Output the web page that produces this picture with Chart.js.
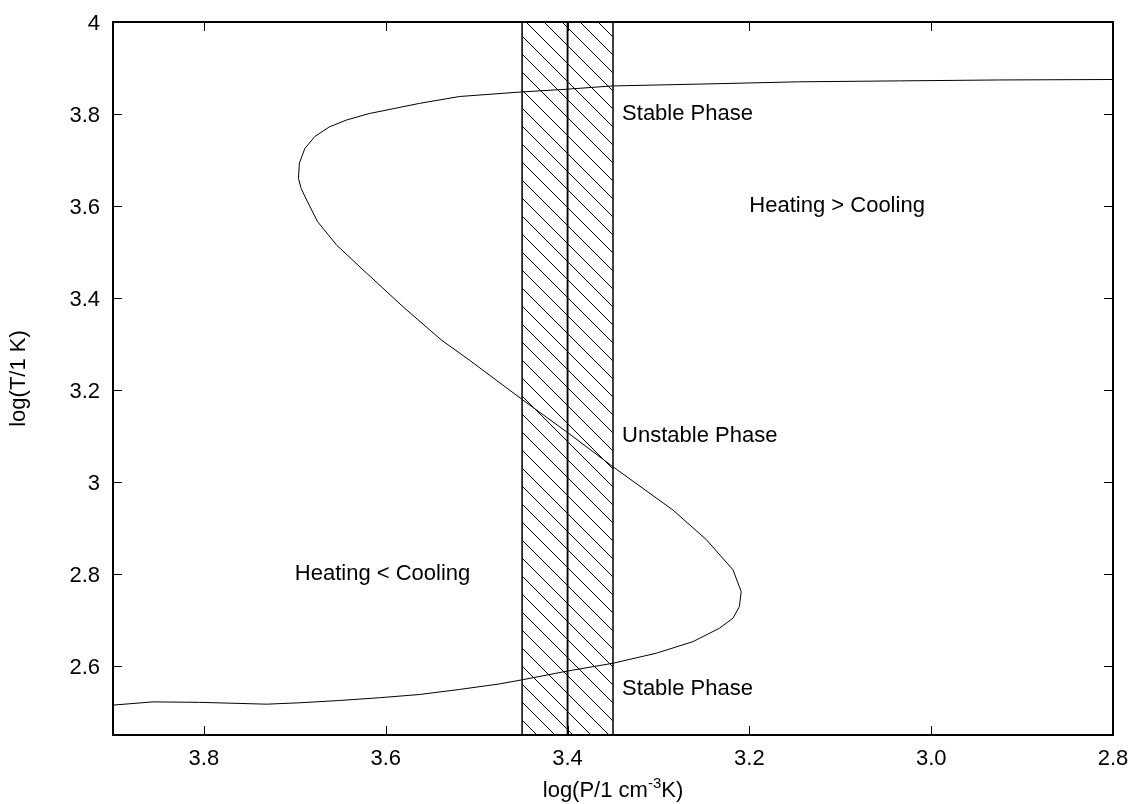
<!DOCTYPE html>
<html>
<head>
<meta charset="utf-8">
<script src="https://cdn.jsdelivr.net/npm/chart.js@4/dist/chart.umd.min.js"></script>
<style>
  html, body { margin: 0; padding: 0; background: #fff; }
  #wrap { width: 1130px; height: 804px; position: relative; }
</style>
</head>
<body>
<div id="wrap"><canvas id="c"></canvas></div>
<script>
// equilibrium curve, log P (x) against log T (y)
var curveP = [2.80, 2.925, 3.035, 3.145, 3.255, 3.351, 3.40, 3.45, 3.519, 3.563,
              3.618, 3.643, 3.662, 3.678, 3.689, 3.695, 3.696, 3.693, 3.687, 3.675,
              3.654, 3.621, 3.581, 3.539, 3.508, 3.449, 3.401, 3.350, 3.284, 3.247,
              3.218, 3.209, 3.211, 3.218, 3.233, 3.262, 3.302, 3.350, 3.400, 3.450,
              3.475, 3.519, 3.563, 3.607, 3.651, 3.695, 3.731, 3.805, 3.856, 3.90];
var curveT = [3.875, 3.874, 3.872, 3.870, 3.865, 3.861, 3.854, 3.848, 3.838, 3.823,
              3.801, 3.787, 3.772, 3.751, 3.725, 3.693, 3.660, 3.638, 3.613, 3.566,
              3.515, 3.454, 3.381, 3.309, 3.265, 3.178, 3.109, 3.033, 2.939, 2.874,
              2.809, 2.762, 2.729, 2.704, 2.682, 2.653, 2.628, 2.606, 2.589, 2.570,
              2.561, 2.549, 2.538, 2.531, 2.525, 2.520, 2.517, 2.521, 2.522, 2.515];

// hatched pressure bands (left edge, right edge)
var bandFrom = [3.45, 3.40];
var bandTo   = [3.40, 3.35];

// axis ranges and ticks
var xMin = 2.8, xMax = 3.9;
var yMin = 2.45, yMax = 4.0;
var xTicks = [3.8, 3.6, 3.4, 3.2, 3.0, 2.8];
var xTickLabels = ["3.8", "3.6", "3.4", "3.2", "3.0", "2.8"];
var yTicks = [2.6, 2.8, 3.0, 3.2, 3.4, 3.6, 3.8, 4.0];
var yTickLabels = ["2.6", "2.8", "3", "3.2", "3.4", "3.6", "3.8", "4"];

// annotations
var noteText = ["Stable Phase", "Heating > Cooling", "Unstable Phase", "Heating < Cooling", "Stable Phase"];
var noteP    = [3.34, 3.2, 3.34, 3.7, 3.34];
var noteT    = [3.8, 3.6, 3.1, 2.8, 2.55];

var FONT = "'Liberation Sans', Arial, Helvetica, sans-serif";

function hatchPattern(ctx, step) {
    var tile = document.createElement("canvas");
    tile.width = tile.height = step;
    var g = tile.getContext("2d");
    g.strokeStyle = "#000";
    g.lineWidth = 1;
    g.beginPath();
    g.moveTo(-1, -1); g.lineTo(step + 1, step + 1);
    g.moveTo(-1, step - 1); g.lineTo(1, step + 1);
    g.moveTo(step - 1, -1); g.lineTo(step + 1, 1);
    g.stroke();
    return ctx.createPattern(tile, "repeat");
}

function tickLabel(values, labels) {
    return function(v) {
        for (var i = 0; i < values.length; i++) {
            if (Math.abs(values[i] - v) < 1e-6) return labels[i];
        }
        return "";
    };
}

// frame, inward ticks, text notes and the x title with its superscript
var decorations = {
    id: "decorations",
    afterDraw: function(chart) {
        var ctx = chart.ctx, a = chart.chartArea;
        var xs = chart.scales.x, ys = chart.scales.y;
        ctx.save();
        ctx.strokeStyle = "#000";
        ctx.lineWidth = 1;
        ctx.beginPath();
        xTicks.forEach(function(v) {
            var px = Math.round(xs.getPixelForValue(v)) + 0.5;
            ctx.moveTo(px, a.bottom); ctx.lineTo(px, a.bottom - 9);
            ctx.moveTo(px, a.top); ctx.lineTo(px, a.top + 9);
        });
        yTicks.forEach(function(v) {
            var py = Math.round(ys.getPixelForValue(v)) + 0.5;
            ctx.moveTo(a.left, py); ctx.lineTo(a.left + 9, py);
            ctx.moveTo(a.right, py); ctx.lineTo(a.right - 9, py);
        });
        ctx.stroke();
        ctx.lineWidth = 2;
        ctx.strokeRect(a.left, a.top, a.right - a.left, a.bottom - a.top);

        ctx.fillStyle = "#000";
        ctx.font = "22px " + FONT;
        ctx.textAlign = "left";
        ctx.textBaseline = "middle";
        noteText.forEach(function(t, i) {
            ctx.fillText(t, xs.getPixelForValue(noteP[i]), ys.getPixelForValue(noteT[i]));
        });

        // log(P/1 cm^-3 K)
        var parts = [["log(P/1 cm", 22, 0], ["-3", 15, -9], ["K)", 22, 0]];
        var widths = parts.map(function(p) {
            ctx.font = p[1] + "px " + FONT;
            return ctx.measureText(p[0]).width;
        });
        var total = widths.reduce(function(s, w) { return s + w; }, 0);
        var x = (a.left + a.right) / 2 - total / 2;
        ctx.textBaseline = "alphabetic";
        parts.forEach(function(p, i) {
            ctx.font = p[1] + "px " + FONT;
            ctx.fillText(p[0], x, 797 + p[2]);
            x += widths[i];
        });
        ctx.restore();
    }
};

var canvas = document.getElementById("c");
var pattern = hatchPattern(canvas.getContext("2d"), 18);

var bandSets = bandFrom.map(function(p0, i) {
    return {
        type: "scatter",
        data: [
            {x: p0, y: yMin}, {x: p0, y: yMax},
            {x: bandTo[i], y: yMax}, {x: bandTo[i], y: yMin}
        ],
        showLine: true,
        borderColor: "#000",
        borderWidth: 1.5,
        backgroundColor: pattern,
        fill: "start",
        pointRadius: 0,
        tension: 0,
        order: 1
    };
});

var chart = new Chart(canvas, {
    type: "scatter",
    data: {
        datasets: [{
            type: "scatter",
            data: curveP.map(function(p, i) { return {x: p, y: curveT[i]}; }),
            showLine: true,
            borderColor: "#000",
            borderWidth: 1,
            pointRadius: 0,
            tension: 0,
            fill: false,
            order: 0
        }].concat(bandSets)
    },
    options: {
        animation: false,
        responsive: true,
        maintainAspectRatio: false,
        devicePixelRatio: 1,
        layout: { padding: { left: 0, right: 17, top: 22, bottom: 0 } },
        plugins: {
            legend: { display: false },
            tooltip: { enabled: false }
        },
        scales: {
            x: {
                type: "linear",
                position: "bottom",
                min: xMin,
                max: xMax,
                reverse: true,
                afterBuildTicks: function(s) { s.ticks = xTicks.map(function(v) { return {value: v}; }); },
                afterFit: function(s) { s.height = 69; },
                // tick marks are drawn inward by the plugin; tickLength only offsets labels
                grid: { display: false, drawTicks: true, tickLength: 11 },
                border: { display: false },
                ticks: {
                    padding: 0,
                    color: "#000",
                    font: { family: FONT, size: 22 },
                    maxRotation: 0,
                    callback: tickLabel(xTicks, xTickLabels)
                }
            },
            y: {
                type: "linear",
                position: "left",
                min: yMin,
                max: yMax,
                afterBuildTicks: function(s) { s.ticks = yTicks.map(function(v) { return {value: v}; }); },
                afterFit: function(s) { s.width = 113; },
                grid: { display: false, drawTicks: true, tickLength: 13 },
                border: { display: false },
                ticks: {
                    padding: 0,
                    labelOffset: 2,
                    color: "#000",
                    font: { family: FONT, size: 22 },
                    callback: tickLabel(yTicks, yTickLabels)
                },
                title: {
                    display: true,
                    text: "log(T/1 K)",
                    color: "#000",
                    font: { family: FONT, size: 22 },
                    padding: { top: 6, bottom: 0 }
                }
            }
        }
    },
    plugins: [decorations]
});
</script>
</body>
</html>
